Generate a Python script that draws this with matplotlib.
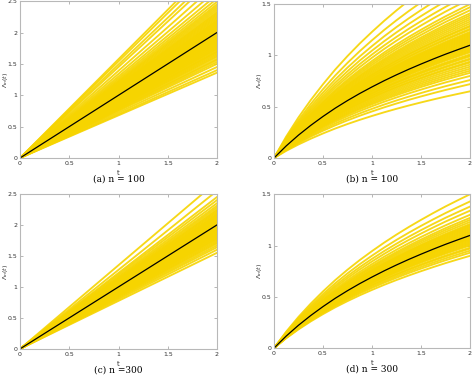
import matplotlib
matplotlib.use("Agg")
import matplotlib.pyplot as plt
import numpy as np

# values of the yellow estimates at t = 2
a_end = [1.36, 1.40, 1.45, 1.50, 1.53, 1.56, 1.58, 1.61, 1.63, 1.65, 1.67, 1.69,
         1.70, 1.72, 1.74, 1.75, 1.77, 1.78, 1.80, 1.81, 1.83, 1.84, 1.86, 1.87,
         1.88, 1.90, 1.91, 1.92, 1.94, 1.95, 1.96, 1.97, 1.99, 2.00, 2.01, 2.02,
         2.04, 2.05, 2.06, 2.08, 2.09, 2.10, 2.12, 2.13, 2.15, 2.16, 2.18, 2.19,
         2.21, 2.23, 2.25, 2.27, 2.29, 2.31, 2.33, 2.36, 2.39, 2.42, 2.45, 2.49,
         2.54, 2.60, 2.68, 2.78, 2.90, 2.98, 3.08, 3.15]
b_end = [0.65, 0.72, 0.76, 0.80, 0.83, 0.85, 0.87, 0.89, 0.91, 0.93, 0.94, 0.96,
         0.97, 0.99, 1.00, 1.01, 1.03, 1.04, 1.05, 1.06, 1.07, 1.08, 1.09, 1.10,
         1.11, 1.12, 1.13, 1.14, 1.15, 1.16, 1.17, 1.18, 1.19, 1.20, 1.21, 1.22,
         1.23, 1.25, 1.26, 1.28, 1.29, 1.31, 1.33, 1.35, 1.37, 1.39, 1.41, 1.44,
         1.47, 1.50, 1.55, 1.60, 1.66, 1.73, 1.82, 1.95]
c_end = [1.55, 1.60, 1.64, 1.67, 1.70, 1.72, 1.74, 1.76, 1.78, 1.79, 1.81, 1.82,
         1.84, 1.85, 1.86, 1.88, 1.89, 1.90, 1.91, 1.92, 1.93, 1.94, 1.95, 1.96,
         1.97, 1.98, 1.99, 2.00, 2.01, 2.02, 2.03, 2.04, 2.05, 2.06, 2.07, 2.08,
         2.09, 2.10, 2.12, 2.13, 2.14, 2.16, 2.17, 2.19, 2.21, 2.23, 2.25, 2.28,
         2.31, 2.35, 2.40, 2.45, 2.55, 2.70]
d_end = [0.90, 0.93, 0.95, 0.97, 0.98, 1.00, 1.01, 1.02, 1.03, 1.04, 1.05, 1.06,
         1.07, 1.07, 1.08, 1.09, 1.10, 1.10, 1.11, 1.12, 1.13, 1.14, 1.15, 1.16,
         1.17, 1.18, 1.19, 1.20, 1.21, 1.23, 1.25, 1.27, 1.30, 1.34, 1.38, 1.43,
         1.50]

# black (true) curves
t_lin = [0, 2]
true_lin = [0, 2]
t_curve = [0, 0.125, 0.25, 0.375, 0.5, 0.625, 0.75, 0.875, 1.0,
           1.125, 1.25, 1.375, 1.5, 1.625, 1.75, 1.875, 2.0]
true_curve = [0, 0.118, 0.223, 0.318, 0.405, 0.486, 0.560, 0.629, 0.693,
              0.754, 0.811, 0.865, 0.916, 0.965, 1.012, 1.056, 1.099]

captions = ["(a) n = 100", "(b) n = 100", "(c) n =300", "(d) n = 300"]

YELLOW = "#f6d400"
GRID = "#b8b8b8"

fig = plt.figure(figsize=(4.74, 3.78), dpi=100)

# [left, bottom, width, height] in figure fractions
boxes = [[0.0422, 0.582, 0.4156, 0.415],
         [0.578, 0.582, 0.4135, 0.407],
         [0.0422, 0.077, 0.4156, 0.410],
         [0.578, 0.079, 0.4135, 0.407]]

panels = [(a_end, t_lin, true_lin, 2.5, [0, 0.5, 1, 1.5, 2, 2.5]),
          (b_end, t_curve, true_curve, 1.5, [0, 0.5, 1, 1.5]),
          (c_end, t_lin, true_lin, 2.5, [0, 0.5, 1, 1.5, 2, 2.5]),
          (d_end, t_curve, true_curve, 1.5, [0, 0.5, 1, 1.5])]

for box, (ends, tt, yy, ymax, yticks), cap in zip(boxes, panels, captions):
    ax = fig.add_axes(box)
    yy = np.array(yy, dtype=float)
    for e in ends:
        # each estimate drawn as the true shape scaled to its end value
        ax.plot(tt, yy * e / yy[-1], color=YELLOW, lw=1.35, alpha=0.9,
                solid_joinstyle="round")
    ax.plot(tt, yy, color="black", lw=0.9)

    ax.set_xlim(0, 2)
    ax.set_ylim(0, ymax)
    ax.set_xticks([0, 0.5, 1, 1.5, 2])
    ax.set_xticklabels(["0", "0.5", "1", "1.5", "2"])
    ax.set_yticks(yticks)
    ax.set_yticklabels(["%g" % v for v in yticks])
    ax.tick_params(direction="in", length=2, width=0.5, color="#999999",
                   labelsize=4.5, labelcolor="#333333", pad=2,
                   top=True, right=True)
    for s in ax.spines.values():
        s.set_color(GRID)
        s.set_linewidth(0.8)
    ax.set_xlabel("t", fontsize=5, color="#333333")
    ax.xaxis.set_label_coords(0.5, -0.075)
    ax.set_ylabel(r"$\Lambda_n(t)$", fontsize=4.6, color="#333333")
    ax.yaxis.set_label_coords(-0.052, 0.5)
    ax.text(0.5, -0.135, cap, transform=ax.transAxes, ha="center", va="center",
            fontsize=6.5, family="DejaVu Serif")

fig.savefig("out.png", dpi=100)
